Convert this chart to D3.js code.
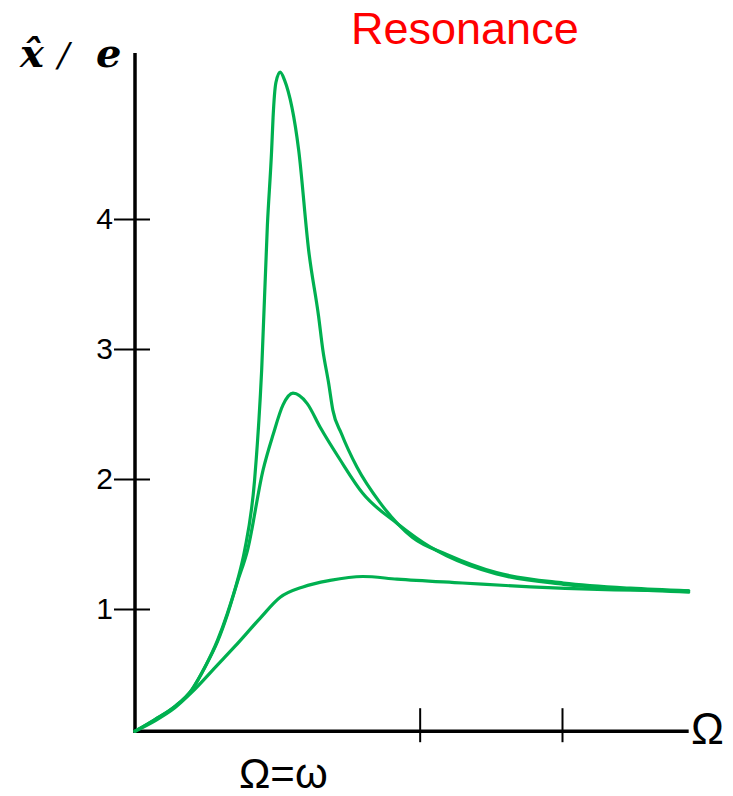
<!DOCTYPE html>
<html>
<head>
<meta charset="utf-8">
<script src="https://cdn.jsdelivr.net/npm/d3@7"></script>
<style>
  body { margin: 0; background: #fff; }
  svg { display: block; }
</style>
</head>
<body>
<div class="chart"></div>
<script>
// values (Ω in units of ω, amplitude ratio x̂/e)
const curveA = {
  x: [0, 0.14, 0.28, 0.40, 0.49, 0.58, 0.65, 0.72, 0.77, 0.84, 0.89, 0.93, 0.96, 0.97, 0.99, 1.02, 1.05, 1.15, 1.22, 1.29, 1.32, 1.36, 1.39, 1.45, 1.56, 1.72, 1.95, 2.19, 2.54, 3.01, 3.48, 3.89],
  y: [0.06, 0.15, 0.25, 0.38, 0.55, 0.76, 0.97, 1.22, 1.45, 1.99, 2.84, 3.95, 4.53, 4.78, 5.05, 5.13, 5.07, 4.53, 3.76, 3.25, 2.99, 2.74, 2.53, 2.35, 2.09, 1.82, 1.55, 1.42, 1.28, 1.20, 1.16, 1.14]
};
const curveB = {
  x: [0, 0.14, 0.28, 0.40, 0.49, 0.58, 0.65, 0.72, 0.79, 0.90, 0.97, 1.04, 1.11, 1.21, 1.30, 1.44, 1.60, 1.84, 2.07, 2.19, 2.54, 3.01, 3.48, 3.89],
  y: [0.06, 0.15, 0.25, 0.38, 0.55, 0.75, 0.96, 1.21, 1.45, 2.07, 2.34, 2.57, 2.66, 2.58, 2.40, 2.15, 1.89, 1.66, 1.48, 1.41, 1.27, 1.19, 1.15, 1.13]
};
const curveC = {
  x: [0, 0.14, 0.28, 0.40, 0.58, 0.70, 0.88, 1.02, 1.18, 1.37, 1.60, 1.84, 2.30, 2.78, 3.25, 3.89],
  y: [0.06, 0.14, 0.24, 0.36, 0.57, 0.71, 0.93, 1.09, 1.17, 1.22, 1.25, 1.23, 1.20, 1.17, 1.15, 1.14]
};
const yTicks = [1, 2, 3, 4];
const yTickLabels = ['1', '2', '3', '4'];
const xTicks = [2, 3];
const xMarkValue = 1;
const xMarkLabel = 'Ω=ω';
const xAxisLabel = 'Ω';
const title = 'Resonance';
const xMax = 3.89;
const yMin = 0.06;

const width = 733;
const height = 796;
const green = '#00b050';

const svg = d3.select('.chart')
  .append('svg')
  .attr('width', width)
  .attr('height', height);

const xScale = d3.scaleLinear()
  .domain([0, 3])
  .range([135, 562]);

const yScale = d3.scaleLinear()
  .domain([1, 4])
  .range([609, 219]);

const x0 = xScale(0);
const y0 = yScale(yMin);

// y axis: ticks cross the axis line
const yAxis = svg.append('g')
  .attr('transform', `translate(${x0}, 0)`)
  .call(d3.axisLeft(yScale).tickValues(yTicks).tickFormat((d, i) => yTickLabels[i]).tickSize(0).tickPadding(22));

yAxis.select('.domain').remove();
yAxis.selectAll('.tick line')
  .attr('x1', -21)
  .attr('x2', 15)
  .attr('stroke', '#000')
  .attr('stroke-width', 2);
yAxis.selectAll('.tick text')
  .attr('font-family', '"Liberation Sans", Arial, sans-serif')
  .attr('font-size', 30)
  .attr('fill', '#000');

// x axis: unlabeled ticks
const xAxis = svg.append('g')
  .attr('transform', `translate(0, ${y0})`)
  .call(d3.axisBottom(xScale).tickValues(xTicks).tickFormat('').tickSize(0));

xAxis.select('.domain').remove();
xAxis.selectAll('.tick line')
  .attr('y1', -23)
  .attr('y2', 11)
  .attr('stroke', '#000')
  .attr('stroke-width', 2);

// main axis lines
svg.append('line')
  .attr('x1', x0).attr('y1', 53)
  .attr('x2', x0).attr('y2', y0 + 1.5)
  .attr('stroke', '#000')
  .attr('stroke-width', 3.5);

svg.append('line')
  .attr('x1', x0 - 1.5).attr('y1', y0)
  .attr('x2', xScale(xMax)).attr('y2', y0)
  .attr('stroke', '#000')
  .attr('stroke-width', 3.5);

// curves
const line = d3.line()
  .x(d => xScale(d[0]))
  .y(d => yScale(d[1]))
  .curve(d3.curveMonotoneX);

[curveC, curveB, curveA].forEach(c => {
  svg.append('path')
    .datum(c.x.map((v, i) => [v, c.y[i]]))
    .attr('d', line)
    .attr('fill', 'none')
    .attr('stroke', green)
    .attr('stroke-width', 3.2)
    .attr('stroke-linecap', 'round')
    .attr('stroke-linejoin', 'round');
});

// labels
svg.append('text')
  .attr('x', xScale(xMarkValue) + 6)
  .attr('y', 788)
  .attr('text-anchor', 'middle')
  .attr('font-family', '"Liberation Sans", Arial, sans-serif')
  .attr('font-size', 42)
  .text(xMarkLabel);

svg.append('text')
  .attr('x', 691)
  .attr('y', 744)
  .attr('font-family', '"Liberation Sans", Arial, sans-serif')
  .attr('font-size', 44)
  .text(xAxisLabel);

svg.append('text')
  .attr('x', 351)
  .attr('y', 44)
  .attr('font-family', '"Liberation Sans", Arial, sans-serif')
  .attr('font-size', 45)
  .attr('fill', '#ff0000')
  .text(title);

// y axis label  x̂ / e
const yLabel = svg.append('text')
  .attr('font-family', '"DejaVu Serif", serif')
  .attr('font-size', 40)
  .attr('y', 67);

yLabel.append('tspan')
  .attr('x', 20)
  .attr('font-style', 'italic')
  .attr('font-weight', 'bold')
  .text('x\u0302');

yLabel.append('tspan')
  .attr('x', 58)
  .attr('font-style', 'italic')
  .attr('font-size', 34)
  .text('/');

yLabel.append('tspan')
  .attr('x', 96)
  .attr('font-style', 'italic')
  .attr('font-weight', 'bold')
  .text('e');
</script>
</body>
</html>
